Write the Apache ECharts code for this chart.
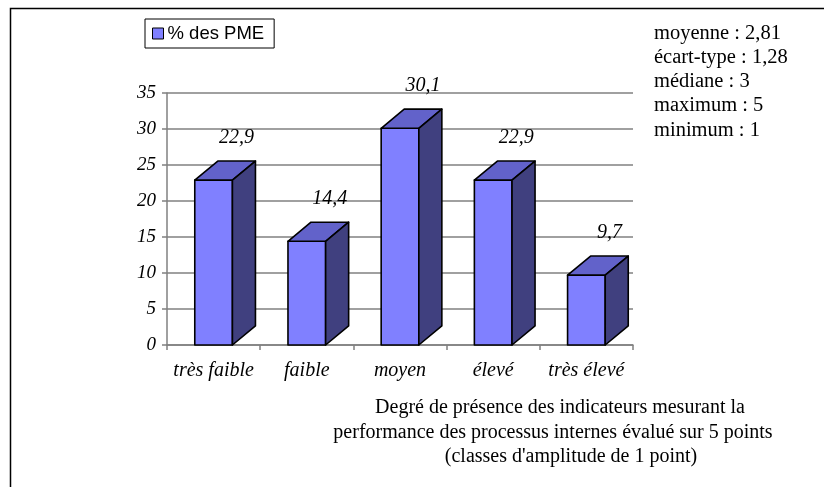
<!DOCTYPE html>
<html>
<head>
<meta charset="utf-8">
<script src="https://cdn.jsdelivr.net/npm/echarts@6/dist/echarts.min.js"></script>
<style>html,body{margin:0;padding:0;background:#fff}#c{width:824px;height:487px}</style>
</head>
<body>
<div id="c"></div>
<script>
var categories = ['très faible', 'faible', 'moyen', 'élevé', 'très élevé'];
var values = [22.9, 14.4, 30.1, 22.9, 9.7];
var yTicks = [0, 5, 10, 15, 20, 25, 30, 35];
var seriesName = '% des PME';
var statsLines = ['moyenne : 2,81', 'écart-type : 1,28', 'médiane : 3', 'maximum : 5', 'minimum : 1'];
var titleLines = ['Degré de présence des indicateurs mesurant la', 'performance des processus internes évalué sur 5 points', "(classes d'amplitude de 1 point)"];

var serif = '"Liberation Serif", "Times New Roman", serif';
var chart = echarts.init(document.getElementById('c'), null, {renderer: 'canvas'});

function fmt(v) { return String(v).replace('.', ','); }

var option = {
  animation: false,
  backgroundColor: '#fff',
  grid: {left: 167, right: 191, top: 93, bottom: 142, containLabel: false},
  legend: {
    left: 145, top: 19,
    data: [{name: seriesName, icon: 'rect', itemStyle: {color: '#8080FF', borderColor: '#000', borderWidth: 1}}],
    itemWidth: 11, itemHeight: 11, itemGap: 4,
    borderColor: '#000', borderWidth: 1, padding: [5, 10, 5, 7],
    textStyle: {fontFamily: '"Liberation Sans", Arial, sans-serif', fontSize: 18.5, color: '#000', padding: [0, 0, 0, -1]}
  },
  xAxis: {
    type: 'category',
    data: categories,
    axisLine: {lineStyle: {color: '#808080', width: 1.5}},
    axisTick: {show: true, interval: 0, length: 5, lineStyle: {color: '#808080', width: 1.5}},
    axisLabel: {interval: 0, fontFamily: serif, fontStyle: 'italic', fontSize: 20, color: '#000', margin: 16}
  },
  yAxis: {
    type: 'value', min: yTicks[0], max: yTicks[yTicks.length - 1], interval: 5,
    axisLine: {show: true, lineStyle: {color: '#808080', width: 1.5}},
    axisTick: {show: true, length: 5, lineStyle: {color: '#808080', width: 1.5}},
    splitLine: {show: true, lineStyle: {color: '#808080', width: 1.5}},
    axisLabel: {fontFamily: serif, fontStyle: 'italic', fontSize: 19, color: '#000', margin: 11}
  },
  series: [{
    name: seriesName,
    type: 'custom',
    clip: false,
    itemStyle: {color: '#8080FF'},
    encode: {x: 0, y: 1},
    data: values.map(function (v, i) { return [i, v]; }),
    renderItem: function (params, api) {
      var idx = api.value(0), v = api.value(1);
      var top = api.coord([idx, v]);
      var base = api.coord([idx, 0]);
      var band = api.size([1, 0])[0];
      var w = band * 0.404, dx = band * 0.247, dy = dx * 0.83;
      var x0 = top[0] - w / 2, x1 = top[0] + w / 2, yt = top[1], yb = base[1];
      var stroke = {stroke: '#000', lineWidth: 1.6, lineJoin: 'round'};
      return {
        type: 'group',
        children: [
          {type: 'polygon', shape: {points: [[x0, yt], [x1, yt], [x1, yb], [x0, yb]]}, style: Object.assign({fill: '#8080FF'}, stroke)},
          {type: 'polygon', shape: {points: [[x0, yt], [x0 + dx, yt - dy], [x1 + dx, yt - dy], [x1, yt]]}, style: Object.assign({fill: '#6262CA'}, stroke)},
          {type: 'polygon', shape: {points: [[x1, yt], [x1 + dx, yt - dy], [x1 + dx, yb - dy], [x1, yb]]}, style: Object.assign({fill: '#40407F'}, stroke)},
          {type: 'text', style: {x: top[0] + dx, y: yt - dy - 23, text: fmt(v), textAlign: 'center', textVerticalAlign: 'middle', fill: '#000', font: 'italic 20px ' + serif}}
        ]
      };
    }
  }],
  graphic: [
    {type: 'rect', shape: {x: 10.5, y: 8.5, width: 830, height: 500}, style: {fill: 'none', stroke: '#000', lineWidth: 1.5}, z: -10, silent: true},
    {type: 'text', left: 654, top: 21, style: {text: statsLines.join('\n'), font: '20.5px ' + serif, lineHeight: 24.3, fill: '#000'}},
    {type: 'text', style: {x: 560, y: 408, text: titleLines[0], textAlign: 'center', textVerticalAlign: 'middle', font: '20px ' + serif, fill: '#000'}},
    {type: 'text', style: {x: 553, y: 432.5, text: titleLines[1], textAlign: 'center', textVerticalAlign: 'middle', font: '20px ' + serif, fill: '#000'}},
    {type: 'text', style: {x: 571, y: 457, text: titleLines[2], textAlign: 'center', textVerticalAlign: 'middle', font: '20px ' + serif, fill: '#000'}}
  ]
};
chart.setOption(option);
</script>
</body>
</html>
